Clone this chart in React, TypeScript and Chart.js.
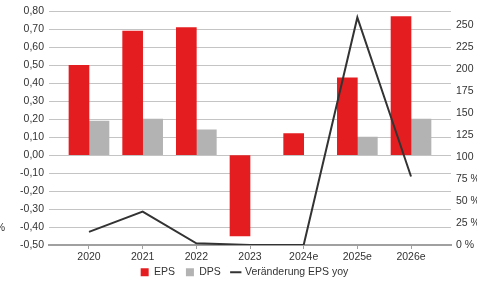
import React, { useEffect, useRef } from "react";
import { Chart, registerables } from "chart.js";

Chart.register(...registerables);

const categories = ["2020", "2021", "2022", "2023", "2024e", "2025e", "2026e"];
const eps = [0.5, 0.69, 0.71, -0.45, 0.12, 0.43, 0.77];
const dps: (number | null)[] = [0.19, 0.2, 0.14, null, null, 0.1, 0.2];
const epsYoy = [15, 38, 2, 0, 0, 259, 78];
const yoyTicks = [0, 25, 50, 75, 100, 125, 150, 175, 200, 225, 250];

const FONT = "'Liberation Sans', Arial, sans-serif";
const TXT = "#333333";

const edgeTextPlugin = {
  id: "edgeText",
  afterDraw(chart: any) {
    const ctx = chart.ctx;
    ctx.save();
    ctx.fillStyle = TXT;
    ctx.font = `10.5px ${FONT}`;
    ctx.textAlign = "right";
    ctx.textBaseline = "middle";
    ctx.fillText("%", 5, 228);
    ctx.restore();
  },
};

export default function App() {
  const ref = useRef<HTMLCanvasElement>(null);
  useEffect(() => {
    document.body.style.margin = "0";
    const chart = new Chart(ref.current!, {
      type: "bar",
      data: {
        datasets: [
          {
            type: "bar",
            label: "EPS",
            data: categories.map((_, i) => ({ x: i, y: eps[i] })),
            backgroundColor: "#e41e20",
            barThickness: 20,
            pointStyle: "rect",
            yAxisID: "y",
            order: 1,
          } as any,
          {
            type: "bar",
            label: "DPS",
            data: categories.map((_, i) => ({ x: i, y: dps[i] })),
            backgroundColor: "#b3b3b3",
            barThickness: 20,
            pointStyle: "rect",
            yAxisID: "y",
            order: 1,
          } as any,
          {
            type: "line",
            label: "Veränderung EPS yoy",
            data: categories.map((_, i) => ({ x: i, y: epsYoy[i] })),
            borderColor: "#333333",
            backgroundColor: "#333333",
            borderWidth: 2,
            pointRadius: 0,
            pointStyle: "line",
            tension: 0,
            yAxisID: "y2",
            order: 0,
          } as any,
        ],
      },
      options: {
        animation: false,
        responsive: false,
        layout: { padding: { left: 12, right: 0, top: 11, bottom: 0 } },
        plugins: {
          tooltip: { enabled: false },
          legend: {
            position: "bottom",
            maxHeight: 28,
            labels: {
              usePointStyle: true,
              boxWidth: 8,
              boxHeight: 8,
              padding: 11,
              color: TXT,
              font: { family: FONT, size: 10.5 },
              sort: (a: any, b: any) => a.datasetIndex - b.datasetIndex,
            },
          } as any,
        },
        scales: {
          x: {
            type: "linear",
            offset: false,
            min: -0.745,
            max: 6.745,
            afterBuildTicks: (s: any) => {
              s.ticks = categories.map((_, i) => ({ value: i }));
            },
            afterFit: (s: any) => {
              s.height = 11;
            },
            grid: {
              display: true,
              offset: false,
              drawOnChartArea: false,
              drawTicks: true,
              tickLength: 4,
              color: "#a0a0a0",
            },
            border: { display: true, color: "#a0a0a0", width: 2 },
            ticks: {
              autoSkip: false,
              maxRotation: 0,
              mirror: true,
              padding: -18,
              color: TXT,
              font: { family: FONT, size: 10.5 },
              callback: (v: any) => categories[Math.round(Number(v))] ?? "",
            },
          },
          y: {
            position: "left",
            min: -0.5,
            max: 0.8,
            afterFit: (s: any) => {
              s.width = 37;
            },
            grid: { color: "#c4c4c4", lineWidth: 1, drawTicks: false },
            border: { display: false },
            ticks: {
              stepSize: 0.1,
              padding: 5,
              color: TXT,
              font: { family: FONT, size: 10.5 },
              callback: (v: any) => {
                const n = Number(v);
                if (Math.abs(n) < 1e-9) return "0,00";
                return n.toFixed(2).replace(".", ",");
              },
            },
          },
          y2: {
            position: "right",
            min: 0,
            max: 266,
            afterBuildTicks: (s: any) => {
              s.ticks = yoyTicks.map((v) => ({ value: v }));
            },
            afterFit: (s: any) => {
              s.width = 26;
            },
            grid: { display: false, drawTicks: false },
            border: { display: false },
            ticks: {
              padding: 5,
              color: TXT,
              font: { family: FONT, size: 10.5 },
              callback: (v: any) => {
                const n = Number(v);
                return n < 100 ? `${n} %` : String(n);
              },
            },
          },
        },
      } as any,
      plugins: [edgeTextPlugin],
    });
    return () => chart.destroy();
  }, []);
  return (
    <div style={{ position: "absolute", left: 0, top: 0, width: 477, height: 284 }}>
      <canvas ref={ref} width={477} height={284} />
    </div>
  );
}
